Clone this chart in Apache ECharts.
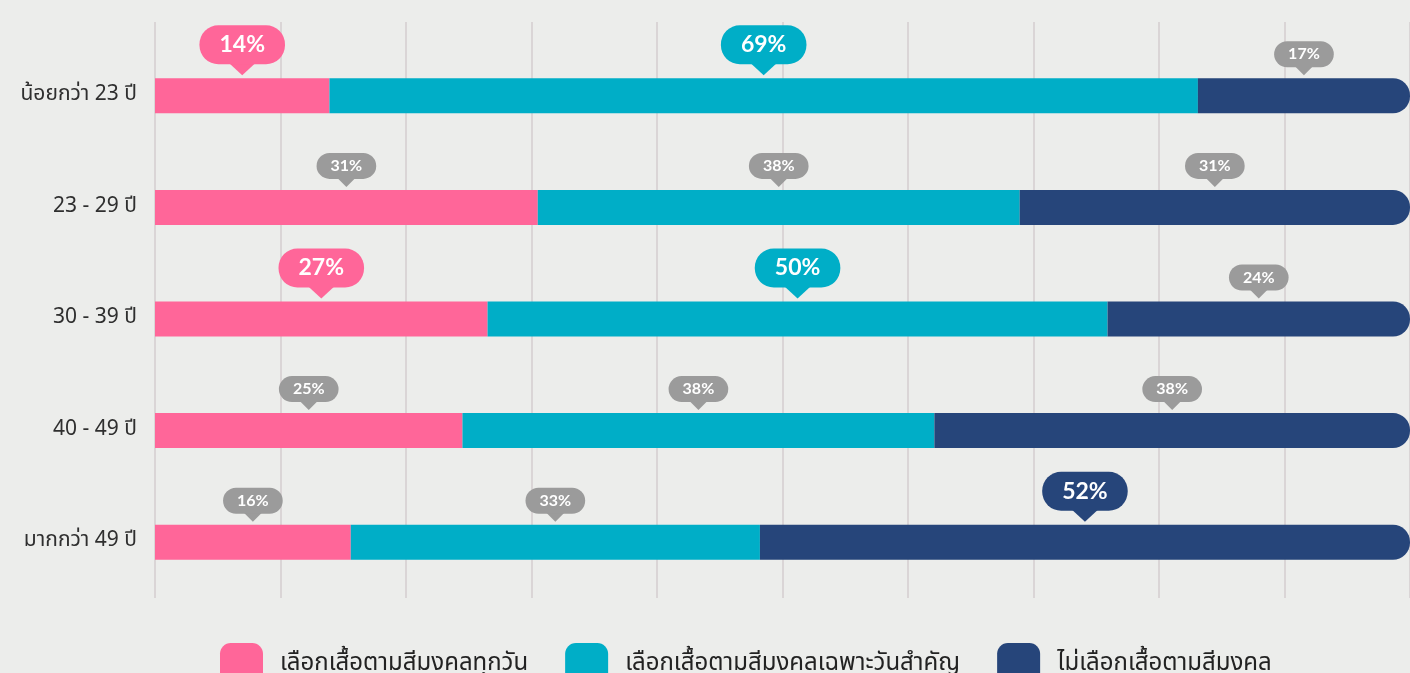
<!DOCTYPE html>
<html>
<head>
<meta charset="utf-8">
<script src="https://cdn.jsdelivr.net/npm/echarts@6/dist/echarts.min.js"></script>
<style>
html,body{margin:0;padding:0;background:#ecedeb;}
#chart{width:1410px;height:673px;}
</style>
</head>
<body>
<div id="chart"></div>
<script>
// ---- data ----
const categories = ['น้อยกว่า 23 ปี', '23 - 29 ปี', '30 - 39 ปี', '40 - 49 ปี', 'มากกว่า 49 ปี'];
const seriesNames = ['เลือกเสื้อตามสีมงคลทุกวัน', 'เลือกเสื้อตามสีมงคลเฉพาะวันสำคัญ', 'ไม่เลือกเสื้อตามสีมงคล'];
// bar lengths (percent) as drawn
const everyDay = [13.9, 30.5, 26.5, 24.5, 15.6];
const specialDay = [69.2, 38.4, 49.4, 37.6, 32.6];
const notChoose = [16.9, 31.1, 24.1, 37.9, 51.8];
// printed percent labels
const everyDayLabels = [14, 31, 27, 25, 16];
const specialDayLabels = [69, 38, 50, 38, 33];
const notChooseLabels = [17, 31, 24, 38, 52];
// which labels are emphasised (big coloured bubble)
const emphasised = [
  [true, true, false],
  [false, false, false],
  [true, true, false],
  [false, false, false],
  [false, false, true]
];
const xTicks = [0, 10, 20, 30, 40, 50, 60, 70, 80, 90, 100];

// ---- style ----
const colors = ['#ff6699', '#00aec7', '#26457a'];
const greyBubble = '#9b9b9b';
const barW = 35;

const values = [everyDay, specialDay, notChoose];
const labels = [everyDayLabels, specialDayLabels, notChooseLabels];

const bubbles = [];
categories.forEach((c, i) => {
  let start = 0;
  for (let s = 0; s < 3; s++) {
    const v = values[s][i];
    bubbles.push({ value: [start + v / 2, i], text: labels[s][i] + '%', s: s, big: emphasised[i][s] });
    start += v;
  }
});

const thaiFont = '"Noto Sans Thai", "Noto Sans Thai UI", "Noto Sans", sans-serif';
const chart = echarts.init(document.getElementById('chart'));
const option = {
  backgroundColor: '#ecedeb',
  animation: false,
  grid: [
    { left: 155, width: 1256, top: 40, bottom: 75, containLabel: false },
    { left: 155, width: 1256, top: 22, height: 19 }
  ],
  xAxis: [
    {
      type: 'value', min: xTicks[0], max: xTicks[xTicks.length - 1], interval: 10, gridIndex: 0,
      axisLabel: { show: false }, axisLine: { show: false }, axisTick: { show: false },
      splitLine: { show: true, lineStyle: { color: '#dad5d6', width: 2 } }
    },
    {
      type: 'value', min: xTicks[0], max: xTicks[xTicks.length - 1], interval: 10, gridIndex: 1,
      axisLabel: { show: false }, axisLine: { show: false }, axisTick: { show: false },
      splitLine: { show: true, lineStyle: { color: '#dad5d6', width: 2 } }
    }
  ],
  yAxis: [
    {
      type: 'category', data: categories, inverse: true, gridIndex: 0,
      axisLine: { show: false }, axisTick: { show: false },
      axisLabel: { margin: 18, fontSize: 21, color: '#2f2f2f', fontFamily: thaiFont }
    },
    { type: 'value', gridIndex: 1, show: false, min: 0, max: 1 }
  ],
  legend: {
    data: seriesNames,
    left: 220, top: 643, padding: 0,
    itemWidth: 43, itemHeight: 44, itemGap: 37,
    icon: 'roundRect',
    textStyle: { fontSize: 24, color: '#222', padding: [0, 0, 0, 12], fontFamily: thaiFont },
    selectedMode: false
  },
  series: [
    {
      name: seriesNames[0], type: 'bar', stack: 'all', data: everyDay, barWidth: barW,
      itemStyle: { color: colors[0] }, xAxisIndex: 0, yAxisIndex: 0
    },
    {
      name: seriesNames[1], type: 'bar', stack: 'all', data: specialDay, barWidth: barW,
      itemStyle: { color: colors[1] }, xAxisIndex: 0, yAxisIndex: 0
    },
    {
      name: seriesNames[2], type: 'bar', stack: 'all', data: notChoose, barWidth: barW,
      itemStyle: { color: colors[2], borderRadius: [0, 17, 17, 0] }, xAxisIndex: 0, yAxisIndex: 0
    },
    {
      type: 'custom', xAxisIndex: 0, yAxisIndex: 0, clip: false, silent: true, z: 10,
      data: bubbles.map(b => b.value),
      renderItem: function (params, api) {
        const b = bubbles[params.dataIndex];
        const pt = api.coord([api.value(0), api.value(1)]);
        const tipY = pt[1] - barW / 2 - 3;
        const color = b.big ? colors[b.s] : greyBubble;
        const th = b.big ? 11 : 8;
        const tw = b.big ? 26 : 18;
        const font = b.big ? 'bold 23px Lato, "Open Sans", sans-serif' : 'bold 16px Lato, "Open Sans", sans-serif';
        const pad = b.big ? [8, 20, 8, 20] : [5, 14, 5, 14];
        const lh = b.big ? 23 : 16;
        const r = b.big ? 19 : 13;
        return {
          type: 'group',
          children: [
            {
              type: 'polygon',
              shape: { points: [[pt[0] - tw / 2, tipY - th - 1], [pt[0] + tw / 2, tipY - th - 1], [pt[0], tipY]] },
              style: { fill: color }
            },
            {
              type: 'text', x: pt[0], y: tipY - th,
              style: {
                text: b.text, fill: '#ffffff', font: font, lineHeight: lh,
                align: 'center', verticalAlign: 'bottom',
                backgroundColor: color, padding: pad, borderRadius: r
              }
            }
          ]
        };
      }
    }
  ]
};
chart.setOption(option);
</script>
</body>
</html>
